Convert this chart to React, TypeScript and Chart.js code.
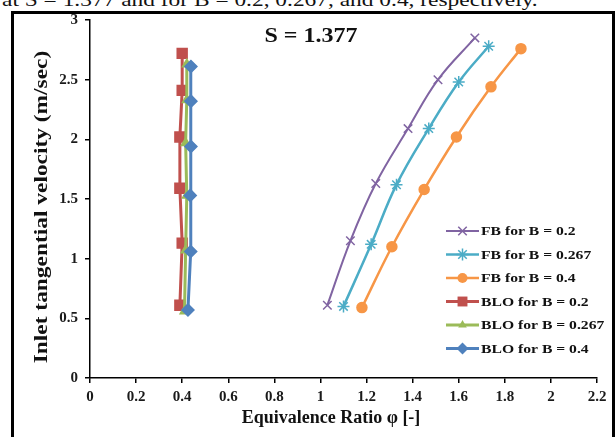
import React, { useEffect, useRef } from 'react';
import { Chart, registerables } from 'chart.js';

Chart.register(...registerables);

// ---- data ----
const SERIES_LABELS = [
  'FB for B = 0.2',
  'FB for B = 0.267',
  'FB for B = 0.4',
  'BLO for B = 0.2',
  'BLO for B = 0.267',
  'BLO for B = 0.4',
];

const FB_B02_PHI = [1.03, 1.13, 1.24, 1.38, 1.51, 1.67];
const FB_B02_V = [0.61, 1.15, 1.63, 2.09, 2.5, 2.85];
const FB_B0267_PHI = [1.1, 1.22, 1.33, 1.47, 1.6, 1.73];
const FB_B0267_V = [0.6, 1.12, 1.62, 2.09, 2.48, 2.78];
const FB_B04_PHI = [1.18, 1.31, 1.45, 1.59, 1.74, 1.87];
const FB_B04_V = [0.59, 1.1, 1.58, 2.02, 2.44, 2.76];
const BLO_B02_PHI = [0.39, 0.4, 0.39, 0.39, 0.4, 0.4];
const BLO_B02_V = [0.61, 1.13, 1.59, 2.02, 2.41, 2.72];
const BLO_B0267_PHI = [0.41, 0.415, 0.42, 0.415, 0.42, 0.42];
const BLO_B0267_V = [0.56, 1.07, 1.53, 1.97, 2.33, 2.63];
const BLO_B04_PHI = [0.425, 0.437, 0.435, 0.438, 0.438, 0.438];
const BLO_B04_V = [0.57, 1.06, 1.53, 1.94, 2.32, 2.61];

const X_TICKS = [0, 0.2, 0.4, 0.6, 0.8, 1, 1.2, 1.4, 1.6, 1.8, 2, 2.2];
const X_TICK_LABELS = ['0', '0.2', '0.4', '0.6', '0.8', '1', '1.2', '1.4', '1.6', '1.8', '2', '2.2'];
const Y_TICKS = [0, 0.5, 1, 1.5, 2, 2.5, 3];
const Y_TICK_LABELS = ['0', '0.5', '1', '1.5', '2', '2.5', '3'];

const CHART_TITLE = 'S = 1.377';
const X_TITLE = 'Equivalence Ratio \u03c6 [-]';
const Y_TITLE = 'Inlet tangential velocity (m/sec)';
const CAPTION = 'at S = 1.377 and for B = 0.2, 0.267, and 0.4, respectively.';

const SERIES_X = [FB_B02_PHI, FB_B0267_PHI, FB_B04_PHI, BLO_B02_PHI, BLO_B0267_PHI, BLO_B04_PHI];
const SERIES_Y = [FB_B02_V, FB_B0267_V, FB_B04_V, BLO_B02_V, BLO_B0267_V, BLO_B04_V];

// ---- styles ----
const COLORS = ['#8064A2', '#4BACC6', '#F79646', '#C0504D', '#9BBB59', '#4F81BD'];
const POINT_STYLES = ['crossRot', 'star', 'circle', 'rect', 'triangle', 'rectRot'];
const POINT_RADII = [6, 6, 5, 7, 5, 6];
const LINE_WIDTHS = [2, 2.5, 2.5, 3, 3, 3];
const TENSIONS = [0.4, 0.4, 0.4, 0, 0, 0];
const FONT = '"Liberation Serif", "Times New Roman", serif';

function drawMarker(ctx: CanvasRenderingContext2D, style: string, x: number, y: number, r: number, color: string) {
  ctx.save();
  ctx.fillStyle = color;
  ctx.strokeStyle = color;
  ctx.lineWidth = 1.5;
  ctx.beginPath();
  if (style === 'circle') {
    ctx.arc(x, y, r, 0, Math.PI * 2);
    ctx.fill();
  } else if (style === 'rect') {
    const s = r * Math.SQRT1_2;
    ctx.rect(x - s, y - s, 2 * s, 2 * s);
    ctx.fill();
  } else if (style === 'rectRot') {
    ctx.moveTo(x, y - r);
    ctx.lineTo(x + r, y);
    ctx.lineTo(x, y + r);
    ctx.lineTo(x - r, y);
    ctx.closePath();
    ctx.fill();
  } else if (style === 'triangle') {
    const a = r * 1.5;
    ctx.moveTo(x, y - r);
    ctx.lineTo(x + a * 0.577, y + r * 0.5);
    ctx.lineTo(x - a * 0.577, y + r * 0.5);
    ctx.closePath();
    ctx.fill();
  } else {
    const d = r * Math.SQRT1_2;
    ctx.moveTo(x - d, y - d);
    ctx.lineTo(x + d, y + d);
    ctx.moveTo(x - d, y + d);
    ctx.lineTo(x + d, y - d);
    if (style === 'star') {
      ctx.moveTo(x, y - r);
      ctx.lineTo(x, y + r);
      ctx.moveTo(x - r, y);
      ctx.lineTo(x + r, y);
    }
    ctx.stroke();
  }
  ctx.restore();
}

const overlayPlugin = {
  id: 'overlay',
  afterDraw(chart: any) {
    const ctx: CanvasRenderingContext2D = chart.ctx;
    ctx.save();
    ctx.fillStyle = '#111';
    ctx.textAlign = 'center';
    ctx.textBaseline = 'middle';

    // chart title
    ctx.save();
    ctx.font = `bold 20px ${FONT}`;
    ctx.translate(311, 37);
    ctx.scale(1.2, 1);
    ctx.fillText(CHART_TITLE, 0, 0);
    ctx.restore();

    // x title
    ctx.save();
    ctx.font = `bold 18px ${FONT}`;
    ctx.fillText(X_TITLE, 331, 418);
    ctx.restore();

    // y title
    ctx.save();
    ctx.font = `bold 18px ${FONT}`;
    ctx.translate(42, 207);
    ctx.rotate(-Math.PI / 2);
    ctx.scale(1.3, 1);
    ctx.fillText(Y_TITLE, 0, 0);
    ctx.restore();

    // legend
    const rowY0 = 231;
    const rowGap = 23.5;
    const x0 = 446;
    const x1 = 479;
    chart.data.datasets.forEach((ds: any, i: number) => {
      const y = rowY0 + i * rowGap;
      ctx.save();
      ctx.strokeStyle = COLORS[i];
      ctx.lineWidth = LINE_WIDTHS[i];
      ctx.beginPath();
      ctx.moveTo(x0, y);
      ctx.lineTo(x1, y);
      ctx.stroke();
      ctx.restore();
      drawMarker(ctx, POINT_STYLES[i], (x0 + x1) / 2, y, POINT_RADII[i], COLORS[i]);
      ctx.save();
      ctx.font = `bold 13.5px ${FONT}`;
      ctx.textAlign = 'left';
      ctx.translate(481, y + 1);
      ctx.scale(1.16, 1);
      ctx.fillText(ds.label, 0, 0);
      ctx.restore();
    });
    ctx.restore();
  },
};

export default function App() {
  const canvasRef = useRef<HTMLCanvasElement | null>(null);

  useEffect(() => {
    const canvas = canvasRef.current;
    if (!canvas) return;
    const datasets = SERIES_LABELS.map((label, i) => ({
      label,
      data: SERIES_X[i].map((x, j) => ({ x, y: SERIES_Y[i][j] })),
      borderColor: COLORS[i],
      backgroundColor: COLORS[i],
      borderWidth: LINE_WIDTHS[i],
      pointStyle: POINT_STYLES[i],
      pointRadius: POINT_RADII[i],
      pointBackgroundColor: COLORS[i],
      pointBorderColor: COLORS[i],
      pointBorderWidth: 1.5,
      tension: TENSIONS[i],
      fill: false,
      order: SERIES_LABELS.length - i,
    }));

    const tickFont = { family: FONT, size: 15, weight: 'bold' as const };
    const chart = new Chart(canvas, {
      type: 'line',
      data: { datasets },
      options: {
        animation: false,
        responsive: false,
        events: [],
        layout: { padding: { left: 0, right: 19, top: 20, bottom: 0 } },
        plugins: {
          legend: { display: false },
          tooltip: { enabled: false },
          title: { display: false },
        },
        scales: {
          x: {
            type: 'linear',
            min: 0,
            max: 2.2,
            afterFit: (s: any) => {
              s.height = 59;
            },
            afterBuildTicks: (s: any) => {
              s.ticks = X_TICKS.map((value) => ({ value }));
            },
            ticks: {
              autoSkip: false,
              maxRotation: 0,
              padding: 5,
              color: '#1a1a1a',
              font: tickFont,
              callback: (_v: any, idx: number) => X_TICK_LABELS[idx],
            },
            grid: {
              display: true,
              drawOnChartArea: false,
              drawTicks: true,
              tickLength: 5,
              color: '#000',
              lineWidth: 1.5,
            },
            border: { display: true, color: '#000', width: 1.5 },
          },
          y: {
            type: 'linear',
            min: 0,
            max: 3,
            afterFit: (s: any) => {
              s.width = 90;
            },
            afterBuildTicks: (s: any) => {
              s.ticks = Y_TICKS.map((value) => ({ value }));
            },
            ticks: {
              autoSkip: false,
              padding: 7,
              color: '#1a1a1a',
              font: tickFont,
              callback: (_v: any, idx: number) => Y_TICK_LABELS[idx],
            },
            grid: {
              display: true,
              drawOnChartArea: false,
              drawTicks: true,
              tickLength: 5,
              color: '#000',
              lineWidth: 1.5,
            },
            border: { display: true, color: '#000', width: 1.5 },
          },
        },
      } as any,
      plugins: [overlayPlugin],
    });
    return () => chart.destroy();
  }, []);

  return (
    <div
      style={{
        position: 'fixed',
        left: 0,
        top: 0,
        width: 616,
        height: 437,
        overflow: 'hidden',
        background: '#fff',
      }}
    >
      <div
        style={{
          position: 'absolute',
          left: 2,
          top: -9,
          fontFamily: FONT,
          fontSize: 18,
          lineHeight: '18px',
          whiteSpace: 'nowrap',
          color: '#111',
          transform: 'scaleX(1.3)',
          transformOrigin: 'left top',
        }}
      >
        {CAPTION}
      </div>
      <div
        style={{
          position: 'absolute',
          left: 11,
          top: 11,
          width: 604,
          height: 440,
          boxSizing: 'border-box',
          borderLeft: '3px solid #000',
          borderTop: '3px solid #000',
          borderRight: '3px solid #000',
        }}
      />
      <canvas
        ref={canvasRef}
        width={616}
        height={437}
        style={{ position: 'absolute', left: 0, top: 0 }}
      />
    </div>
  );
}
